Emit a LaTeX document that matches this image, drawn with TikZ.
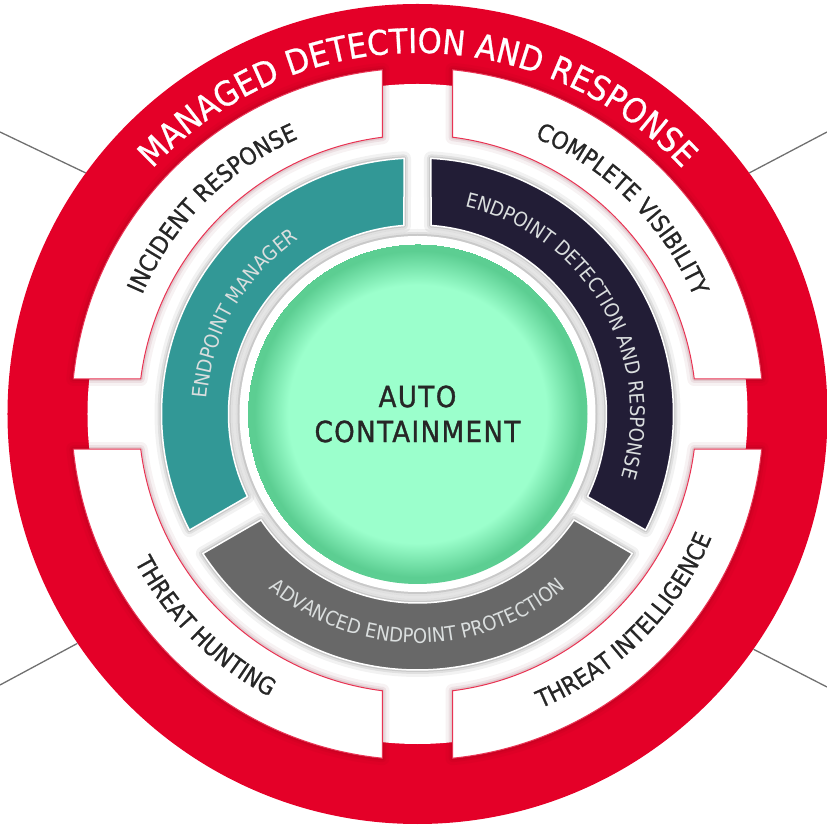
\documentclass[tikz,border=0pt]{standalone}
\usepackage{fontspec}
\setmainfont{DejaVu Sans Condensed}
\newfontfamily\heavyfamily[FakeBold=0.8]{DejaVu Sans Condensed}
\newfontfamily\corefamily[FakeBold=1.2, LetterSpace=5]{DejaVu Sans Condensed}
\usetikzlibrary{decorations.text}

\definecolor{mdrred}{RGB}{228,0,40}
\definecolor{emteal}{RGB}{50,152,150}
\definecolor{edrnavy}{RGB}{34,29,54}
\definecolor{aepgrey}{RGB}{104,104,104}
\definecolor{mintc}{RGB}{155,255,204}
\definecolor{mintd}{RGB}{92,206,146}
\definecolor{calloutgrey}{RGB}{112,112,112}
\definecolor{ringtext}{RGB}{218,222,222}

\pgfdeclareradialshading{greenball}{\pgfpoint{0bp}{0bp}}{color(0bp)=(mintc); color(19bp)=(mintc); color(24bp)=(mintd); color(25bp)=(mintd)}

\newcommand\titlefont{\heavyfamily\fontsize{34}{34}\selectfont}
\newcommand\bandfont{\heavyfamily\fontsize{24}{24}\selectfont}
\newcommand\ringfont{\fontsize{20}{20}\selectfont}
\newcommand\corefont{\corefamily\fontsize{29}{35}\selectfont}

\tikzset{
  shadowed/.style={preaction={draw=#1, line width=14, opacity=0.05, line join=round},
                   preaction={draw=#1, line width=8, opacity=0.07, line join=round},
                   preaction={draw=#1, line width=4, opacity=0.1, line join=round}},
  band/.style={fill=white, draw=mdrred!80, line width=1, shadowed=mdrred!50!black},
  segment/.style={draw=white, line width=1.5, shadowed=black},
  callout/.style={draw=calloutgrey, line width=1.3},
  titletext/.style={decorate, decoration={text along path, text align=center,
      text color=white, text={|\titlefont|#1}}},
  bandlabel/.style={decorate, decoration={text along path, text align=center,
      text color=black!85, text={|\bandfont|#1}}},
  ringlabel/.style={decorate, decoration={text along path, text align=center,
      text color=ringtext, text={|\ringfont|#1}}},
}

\begin{document}
\begin{tikzpicture}[x=1pt,y=1pt]
\useasboundingbox (-417.5,-412) rectangle (409.5,414);
% red ring
\node[circle, fill=mdrred, minimum size=820, inner sep=0pt] (mdr) at (0,0) {};
\coordinate (tlend) at (-417.5,282);
\coordinate (trend) at (409.5,282);
\coordinate (blend) at (-417.5,-271);
\coordinate (brend) at (409.5,-273);
\draw[callout] (tlend) -- (mdr.144.1);
\draw[callout] (trend) -- (mdr.36.7);
\draw[callout] (blend) -- (mdr.214.5);
\draw[callout] (brend) -- (mdr.-35.4);
\fill[white] (0,0) circle (330);
\path[titletext={MANAGED DETECTION AND RESPONSE}] (165:361) arc (165:15:361);
% outer bands
\draw[band] (5.81:346) arc (5.81:84.19:346) -- (82.79:279) arc (82.79:7.21:279) -- cycle;
\draw[band] (95.81:346) arc (95.81:174.19:346) -- (172.79:279) arc (172.79:97.21:279) -- cycle;
\draw[band] (185.81:346) arc (185.81:264.19:346) -- (262.79:279) arc (262.79:187.21:279) -- cycle;
\draw[band] (275.81:346) arc (275.81:354.19:346) -- (352.79:279) arc (352.79:277.21:279) -- cycle;
\path[bandlabel={INCIDENT RESPONSE}] (178:300) arc (178:92:300);
\path[bandlabel={COMPLETE VISIBILITY}] (88:300) arc (88:2:300);
\path[bandlabel={THREAT HUNTING}] (182:319) arc (182:268:319);
\path[bandlabel={THREAT INTELLIGENCE}] (272:319) arc (272:358:319);
% inner ring
\draw[segment, fill=emteal] (93.02:256) arc (93.02:206.98:256) -- (205.90:189) arc (205.90:94.10:189) -- cycle;
\draw[segment, fill=edrnavy] (86.98:256) arc (86.98:-26.98:256) -- (-25.90:189) arc (-25.90:85.90:189) -- cycle;
\draw[segment, fill=aepgrey] (213.02:256) arc (213.02:326.98:256) -- (325.90:189) arc (325.90:214.10:189) -- cycle;
\path[ringlabel={ENDPOINT MANAGER}] (215:211) arc (215:85:211);
\path[ringlabel={ENDPOINT DETECTION AND RESPONSE}] (110:213) arc (110:-50:213);
\path[ringlabel={ADVANCED ENDPOINT PROTECTION}] (200:229) arc (200:340:229);
% core
\fill[white, shadowed=black] (0,0) circle (178);
\node[circle, minimum size=340, inner sep=0pt, shade, shading=greenball, align=center,
      font=\corefont, text=black!85] (core) at (0,0) {AUTO\\CONTAINMENT};
\end{tikzpicture}
\end{document}
